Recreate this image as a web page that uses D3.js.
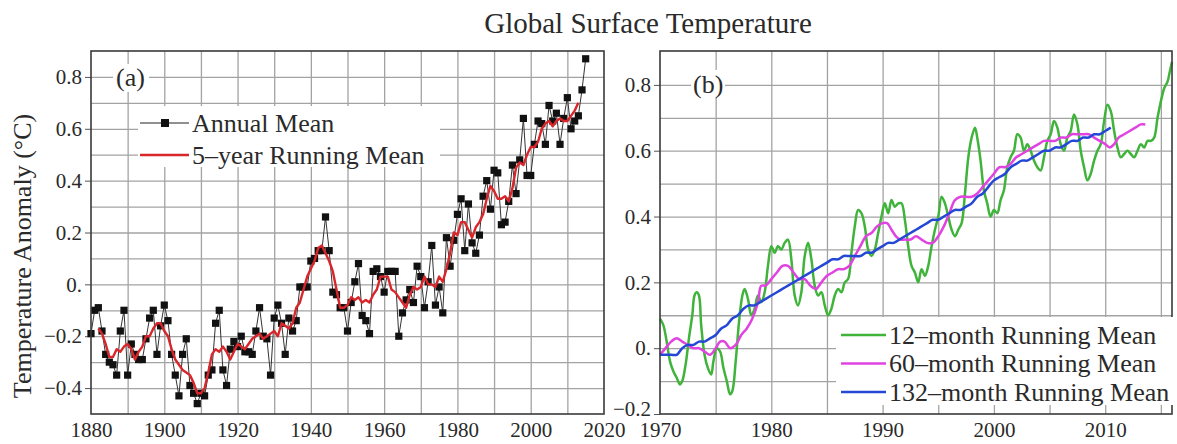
<!DOCTYPE html>
<html>
<head>
<meta charset="utf-8">
<script src="https://cdn.jsdelivr.net/npm/d3@7"></script>
<style>
  body { margin: 0; background: #fff; }
  text { font-family: "Liberation Serif", "Times New Roman", serif; fill: #2a2a2a; }
</style>
</head>
<body>
<script>
// ---- data ----
const firstYear = 1880;
// (a) annual mean anomaly, 1880 - 2015
const annualMean = [
  -0.19, -0.10, -0.09, -0.18, -0.27, -0.30, -0.31, -0.35, -0.18, -0.10,
  -0.35, -0.23, -0.27, -0.29, -0.29, -0.21, -0.13, -0.10, -0.27, -0.16,
  -0.08, -0.14, -0.27, -0.35, -0.43, -0.27, -0.21, -0.39, -0.42, -0.46,
  -0.42, -0.43, -0.35, -0.33, -0.15, -0.10, -0.33, -0.39, -0.25, -0.22,
  -0.24, -0.20, -0.26, -0.26, -0.27, -0.18, -0.09, -0.20, -0.21, -0.35,
  -0.13, -0.08, -0.15, -0.27, -0.13, -0.18, -0.14, -0.01, -0.01, -0.01,
  0.09, 0.10, 0.13, 0.13, 0.26, 0.13, -0.03, -0.04, -0.09, -0.09,
  -0.18, -0.07, 0.01, 0.08, -0.12, -0.14, -0.19, 0.05, 0.06, 0.03,
  -0.03, 0.05, 0.05, 0.05, -0.20, -0.11, -0.06, -0.02, -0.07, 0.07,
  0.03, -0.09, 0.01, 0.15, -0.08, -0.01, -0.11, 0.18, 0.07, 0.17,
  0.27, 0.33, 0.13, 0.31, 0.16, 0.12, 0.19, 0.34, 0.40, 0.29,
  0.44, 0.43, 0.23, 0.24, 0.32, 0.46, 0.35, 0.48, 0.64, 0.42,
  0.42, 0.54, 0.63, 0.62, 0.54, 0.69, 0.63, 0.66, 0.54, 0.64,
  0.72, 0.60, 0.63, 0.65, 0.75, 0.87
];
// (a) 5-year running mean, 1882 - 2013
const runFirstYear = 1882;
const runningMean5 = [
  -0.17, -0.19, -0.23, -0.28, -0.28, -0.25, -0.26, -0.24,
  -0.23, -0.25, -0.29, -0.26, -0.24, -0.20, -0.20, -0.17, -0.15, -0.15,
  -0.18, -0.20, -0.25, -0.29, -0.31, -0.33, -0.34, -0.35, -0.38, -0.42,
  -0.42, -0.40, -0.34, -0.27, -0.25, -0.26, -0.24, -0.26, -0.29, -0.26,
  -0.23, -0.24, -0.25, -0.23, -0.21, -0.20, -0.19, -0.21, -0.20, -0.19,
  -0.18, -0.20, -0.15, -0.16, -0.17, -0.15, -0.09, -0.07, -0.02, 0.03,
  0.06, 0.09, 0.14, 0.15, 0.12, 0.09, 0.05, -0.02, -0.09, -0.09,
  -0.08, -0.05, -0.06, -0.05, -0.07, -0.06, -0.07, -0.04, -0.02, 0.03,
  0.03, 0.03, -0.02, -0.03, -0.05, -0.07, -0.09, -0.04, -0.01, -0.02,
  -0.01, 0.03, 0.00, 0.00, -0.01, 0.03, 0.01, 0.06, 0.12, 0.20,
  0.19, 0.24, 0.24, 0.21, 0.18, 0.22, 0.24, 0.27, 0.33, 0.38,
  0.36, 0.33, 0.33, 0.34, 0.32, 0.37, 0.45, 0.47, 0.46, 0.50,
  0.53, 0.53, 0.55, 0.60, 0.62, 0.63, 0.61, 0.63, 0.64, 0.63,
  0.63, 0.65, 0.67, 0.70
];

// (b) running means of monthly data: [decimal year, anomaly]
const mean12 = [
  [1970.0, 0.09], [1970.3, 0.07], [1970.6, 0.02], [1970.9, -0.04], [1971.2, -0.07],
  [1971.5, -0.09], [1971.8, -0.11], [1972.0, -0.10], [1972.3, -0.05], [1972.6, 0.03],
  [1972.9, 0.10], [1973.1, 0.16], [1973.3, 0.17], [1973.5, 0.16], [1973.7, 0.07],
  [1974.0, -0.02], [1974.3, -0.06], [1974.6, -0.08], [1974.8, -0.04], [1975.1, 0.00],
  [1975.4, -0.01], [1975.7, -0.06], [1976.0, -0.10], [1976.3, -0.14], [1976.5, -0.13],
  [1976.8, -0.04], [1977.1, 0.08], [1977.4, 0.16], [1977.6, 0.18], [1977.9, 0.15],
  [1978.2, 0.10], [1978.5, 0.12], [1978.8, 0.16], [1979.1, 0.14], [1979.4, 0.17],
  [1979.7, 0.25], [1980.0, 0.31], [1980.3, 0.29], [1980.6, 0.31], [1980.9, 0.30],
  [1981.2, 0.32], [1981.5, 0.33], [1981.8, 0.27], [1982.1, 0.16], [1982.4, 0.13],
  [1982.7, 0.17], [1983.0, 0.28], [1983.3, 0.32], [1983.6, 0.27], [1983.9, 0.19],
  [1984.2, 0.16], [1984.5, 0.17], [1984.8, 0.13], [1985.1, 0.10], [1985.4, 0.12],
  [1985.7, 0.16], [1986.0, 0.18], [1986.3, 0.17], [1986.6, 0.20], [1986.9, 0.21],
  [1987.2, 0.29], [1987.5, 0.37], [1987.8, 0.42], [1988.1, 0.41], [1988.4, 0.37],
  [1988.7, 0.30], [1989.0, 0.28], [1989.3, 0.30], [1989.6, 0.35], [1989.9, 0.40],
  [1990.2, 0.44], [1990.5, 0.41], [1990.8, 0.45], [1991.1, 0.43], [1991.4, 0.44],
  [1991.7, 0.44], [1992.0, 0.39], [1992.3, 0.31], [1992.6, 0.25], [1992.9, 0.23],
  [1993.2, 0.20], [1993.5, 0.24], [1993.8, 0.22], [1994.1, 0.25], [1994.4, 0.31],
  [1994.7, 0.36], [1995.0, 0.40], [1995.3, 0.46], [1995.6, 0.44], [1995.9, 0.40],
  [1996.2, 0.36], [1996.5, 0.34], [1996.8, 0.36], [1997.1, 0.38], [1997.4, 0.47],
  [1997.7, 0.58], [1998.0, 0.64], [1998.3, 0.67], [1998.5, 0.64], [1998.8, 0.57],
  [1999.1, 0.48], [1999.4, 0.44], [1999.7, 0.40], [2000.0, 0.42], [2000.3, 0.41],
  [2000.6, 0.45], [2000.9, 0.48], [2001.2, 0.55], [2001.5, 0.58], [2001.8, 0.60],
  [2002.1, 0.65], [2002.4, 0.64], [2002.7, 0.60], [2003.0, 0.62], [2003.3, 0.60],
  [2003.6, 0.57], [2003.9, 0.55], [2004.2, 0.54], [2004.5, 0.58], [2004.8, 0.63],
  [2005.1, 0.65], [2005.4, 0.69], [2005.7, 0.67], [2006.0, 0.62], [2006.3, 0.60],
  [2006.6, 0.64], [2006.9, 0.66], [2007.2, 0.71], [2007.5, 0.68], [2007.8, 0.60],
  [2008.1, 0.55], [2008.4, 0.51], [2008.7, 0.53], [2009.0, 0.57], [2009.3, 0.60],
  [2009.6, 0.62], [2009.9, 0.69], [2010.2, 0.74], [2010.5, 0.72], [2010.8, 0.66],
  [2011.1, 0.61], [2011.4, 0.58], [2011.7, 0.59], [2012.0, 0.60], [2012.3, 0.59],
  [2012.6, 0.58], [2012.9, 0.60], [2013.2, 0.62], [2013.5, 0.61], [2013.8, 0.63],
  [2014.1, 0.63], [2014.4, 0.64], [2014.7, 0.70], [2015.0, 0.75], [2015.3, 0.79],
  [2015.6, 0.81], [2015.8, 0.84], [2016.0, 0.87]
];
const mean60 = [
  [1970.0, -0.02], [1970.5, 0.00], [1971.0, 0.02], [1971.5, 0.03], [1972.0, 0.02],
  [1972.5, 0.01], [1973.0, 0.00], [1973.5, 0.00], [1974.0, -0.01], [1974.5, -0.02],
  [1975.0, 0.00], [1975.4, 0.02], [1975.8, 0.02], [1976.3, 0.00], [1976.8, 0.01],
  [1977.3, 0.04], [1977.8, 0.06], [1978.3, 0.09], [1978.8, 0.14], [1979.1, 0.19],
  [1979.5, 0.19], [1980.0, 0.21], [1980.5, 0.23], [1981.0, 0.25], [1981.5, 0.25],
  [1982.0, 0.23], [1982.5, 0.21], [1983.0, 0.21], [1983.5, 0.19], [1984.0, 0.18],
  [1984.5, 0.20], [1985.0, 0.22], [1985.5, 0.23], [1986.0, 0.24], [1986.5, 0.24],
  [1987.0, 0.25], [1987.5, 0.28], [1988.0, 0.31], [1988.5, 0.34], [1989.0, 0.35],
  [1989.5, 0.37], [1990.0, 0.38], [1990.4, 0.38], [1990.8, 0.36], [1991.2, 0.34],
  [1991.6, 0.33], [1992.0, 0.33], [1992.5, 0.33], [1993.0, 0.34], [1993.5, 0.33],
  [1994.0, 0.32], [1994.5, 0.32], [1995.0, 0.34], [1995.5, 0.37], [1996.0, 0.41],
  [1996.5, 0.45], [1997.0, 0.46], [1997.5, 0.46], [1998.0, 0.46], [1998.5, 0.47],
  [1999.0, 0.49], [1999.5, 0.51], [2000.0, 0.53], [2000.5, 0.55], [2001.0, 0.55],
  [2001.5, 0.56], [2002.0, 0.58], [2002.5, 0.59], [2003.0, 0.60], [2003.5, 0.61],
  [2004.0, 0.62], [2004.5, 0.63], [2005.0, 0.63], [2005.5, 0.63], [2006.0, 0.64],
  [2006.5, 0.64], [2007.0, 0.65], [2007.5, 0.65], [2008.0, 0.65], [2008.5, 0.65],
  [2009.0, 0.64], [2009.5, 0.63], [2010.0, 0.62], [2010.4, 0.61], [2010.8, 0.62],
  [2011.2, 0.64], [2011.7, 0.65], [2012.2, 0.66], [2012.7, 0.67], [2013.2, 0.68],
  [2013.6, 0.68]
];
const mean132 = [
  [1970.0, -0.02], [1970.5, -0.02], [1971.0, -0.02], [1971.5, -0.02], [1972.0, 0.00],
  [1972.5, 0.01], [1973.0, 0.01], [1973.5, 0.02], [1974.0, 0.02], [1974.5, 0.03],
  [1975.0, 0.04], [1975.5, 0.06], [1976.0, 0.07], [1976.5, 0.09], [1977.0, 0.10],
  [1977.5, 0.12], [1978.0, 0.13], [1978.5, 0.13], [1979.0, 0.14], [1979.5, 0.15],
  [1980.0, 0.16], [1980.5, 0.17], [1981.0, 0.18], [1981.5, 0.19], [1982.0, 0.20],
  [1982.5, 0.21], [1983.0, 0.22], [1983.5, 0.23], [1984.0, 0.24], [1984.5, 0.25],
  [1985.0, 0.26], [1985.5, 0.27], [1986.0, 0.27], [1986.5, 0.28], [1987.0, 0.28],
  [1987.5, 0.28], [1988.0, 0.28], [1988.5, 0.29], [1989.0, 0.29], [1989.5, 0.30],
  [1990.0, 0.31], [1990.5, 0.32], [1991.0, 0.32], [1991.5, 0.33], [1992.0, 0.34],
  [1992.5, 0.35], [1993.0, 0.36], [1993.5, 0.37], [1994.0, 0.38], [1994.5, 0.39],
  [1995.0, 0.39], [1995.5, 0.40], [1996.0, 0.41], [1996.5, 0.42], [1997.0, 0.42],
  [1997.5, 0.43], [1998.0, 0.44], [1998.5, 0.46], [1999.0, 0.47], [1999.5, 0.49],
  [2000.0, 0.51], [2000.5, 0.52], [2001.0, 0.53], [2001.5, 0.55], [2002.0, 0.56],
  [2002.5, 0.57], [2003.0, 0.57], [2003.5, 0.58], [2004.0, 0.59], [2004.5, 0.60],
  [2005.0, 0.60], [2005.5, 0.61], [2006.0, 0.61], [2006.5, 0.62], [2007.0, 0.63],
  [2007.5, 0.63], [2008.0, 0.64], [2008.5, 0.64], [2009.0, 0.65], [2009.5, 0.65],
  [2010.0, 0.66], [2010.5, 0.67]
];

// tick labels
const xTicksA = [1880, 1900, 1920, 1940, 1960, 1980, 2000, 2020];
const yTicksA = [-0.4, -0.2, 0, 0.2, 0.4, 0.6, 0.8];
const xTicksB = [1970, 1980, 1990, 2000, 2010];
const yTicksB = [-0.2, 0, 0.2, 0.4, 0.6, 0.8];

const legendA = ["Annual Mean", "5\u2013year Running Mean"];
const legendB = ["12\u2013month Running Mean", "60\u2013month Running Mean", "132\u2013month Running Mean"];
const colorsB = ["#3fb33a", "#e043e0", "#2547d6"];

// ---- layout ----
const W = 1177, H = 444;
const plotTop = 51, plotBottom = 414;
const serif = "Liberation Serif, Times New Roman, serif";

const svg = d3.select("body").append("svg")
  .attr("width", W)
  .attr("height", H);

svg.append("rect").attr("width", W).attr("height", H).attr("fill", "#fff");

// title
svg.append("text")
  .attr("x", 648)
  .attr("y", 33)
  .attr("text-anchor", "middle")
  .style("font-size", "29px")
  .text("Global Surface Temperature");

// y axis title
svg.append("text")
  .attr("transform", "translate(31,256) rotate(-90)")
  .attr("text-anchor", "middle")
  .style("font-size", "26px")
  .text("Temperature Anomaly (\u00b0C)");

const yFmt = (d) => (Math.abs(d) < 1e-9 ? "0." : d3.format(".1f")(d));

function drawPanel(x, y, gridX, gridY, ticksX, ticksY) {
  const left = x.range()[0], right = x.range()[1];
  const g = svg.append("g");

  // grid
  g.append("g")
    .attr("transform", `translate(0,${plotBottom})`)
    .call(d3.axisBottom(x).tickValues(gridX).tickSize(-(plotBottom - plotTop)).tickFormat(""))
    .call((s) => s.select(".domain").remove())
    .call((s) => s.selectAll("line").attr("stroke", "#a3a3a3").attr("stroke-width", 1.3));

  g.append("g")
    .attr("transform", `translate(${left},0)`)
    .call(d3.axisLeft(y).tickValues(gridY).tickSize(-(right - left)).tickFormat(""))
    .call((s) => s.select(".domain").remove())
    .call((s) => s.selectAll("line").attr("stroke", "#a3a3a3").attr("stroke-width", 1.3));

  // labelled axes
  g.append("g")
    .attr("transform", `translate(0,${plotBottom})`)
    .call(d3.axisBottom(x).tickValues(ticksX).tickSize(0).tickPadding(8).tickFormat(d3.format("d")))
    .attr("font-family", serif)
    .attr("font-size", 21)
    .call((s) => s.select(".domain").remove())
    .call((s) => s.selectAll("text").style("font-size", "21px").style("font-family", serif).attr("fill", "#333"));

  g.append("g")
    .attr("class", "yaxis")
    .attr("transform", `translate(${left},0)`)
    .call(d3.axisLeft(y).tickValues(ticksY).tickSize(6).tickPadding(3).tickFormat(yFmt))
    .attr("font-family", serif)
    .attr("font-size", 21)
    .call((s) => s.select(".domain").remove())
    .call((s) => s.selectAll("line").attr("stroke", "#555"))
    .call((s) => s.selectAll("text").style("font-size", "21px").style("font-family", serif).attr("fill", "#333"));

  return g;
}

function drawFrame(x) {
  const left = x.range()[0], right = x.range()[1];
  svg.append("rect")
    .attr("x", left).attr("y", plotTop)
    .attr("width", right - left).attr("height", plotBottom - plotTop)
    .attr("fill", "none").attr("stroke", "#3a3a3a").attr("stroke-width", 1.6);
}

// ---- panel (a) ----
const xA = d3.scaleLinear().domain([1880, 2020]).range([91, 604]);
const yA = d3.scaleLinear().domain([-0.5, 0.9]).range([plotBottom, plotTop]);

drawPanel(xA, yA, d3.range(1890, 2020, 10), d3.range(-4, 9).map((d) => d / 10), xTicksA, yTicksA);

const annual = annualMean.map((v, i) => [firstYear + i, v]);
const running = runningMean5.map((v, i) => [runFirstYear + i, v]);

const lineA = d3.line().x((d) => xA(d[0])).y((d) => yA(d[1]));

svg.append("path").datum(annual)
  .attr("d", lineA).attr("fill", "none")
  .attr("stroke", "#333").attr("stroke-width", 1);

svg.append("g").selectAll("rect")
  .data(annual).enter().append("rect")
  .attr("x", (d) => xA(d[0]) - 3.6)
  .attr("y", (d) => yA(d[1]) - 3.6)
  .attr("width", 7.2).attr("height", 7.2)
  .attr("fill", "#111");

svg.append("path").datum(running)
  .attr("d", lineA).attr("fill", "none")
  .attr("stroke", "#d8262b").attr("stroke-width", 2.4)
  .attr("stroke-linejoin", "round");

drawFrame(xA);

// panel label (a)
svg.append("rect").attr("x", 113).attr("y", 64).attr("width", 36).attr("height", 28).attr("fill", "#fff");
svg.append("text").attr("x", 116).attr("y", yA(0.8)).attr("dy", "0.33em")
  .style("font-size", "26px").text("(a)");

// legend (a)
const legA = svg.append("g");
legA.append("rect").attr("x", 138).attr("y", 106).attr("width", 302).attr("height", 61).attr("fill", "#fff");
legendA.forEach((label, i) => {
  const ly = 123 + i * 32;
  legA.append("line").attr("x1", 140).attr("x2", 189).attr("y1", ly).attr("y2", ly)
    .attr("stroke", i === 0 ? "#222" : "#d8262b").attr("stroke-width", i === 0 ? 1.2 : 2.4);
  if (i === 0) {
    legA.append("rect").attr("x", 161).attr("y", ly - 4).attr("width", 8).attr("height", 8).attr("fill", "#111");
  }
  legA.append("text").attr("x", 192).attr("y", ly).attr("dy", "0.33em")
    .style("font-size", "26px").text(label);
});

// ---- panel (b) ----
const xB = d3.scaleLinear().domain([1970, 2016]).range([660, 1172]);
const yB = d3.scaleLinear().domain([-0.2, 0.903]).range([plotBottom, plotTop]);

const gB = drawPanel(xB, yB, d3.range(1975, 2016, 5), d3.range(-1, 9).map((d) => d / 10), xTicksB, yTicksB);
// lowest label sits a little higher, as in the figure
gB.select(".yaxis").selectAll(".tick").filter((d) => d < -0.1).select("text").attr("dy", "0.05em");

const lineB = d3.line().x((d) => xB(d[0])).y((d) => yB(d[1])).curve(d3.curveCatmullRom);

[mean12, mean60, mean132].forEach((series, i) => {
  svg.append("path").datum(series)
    .attr("d", lineB).attr("fill", "none")
    .attr("stroke", colorsB[i]).attr("stroke-width", 2.5)
    .attr("stroke-linejoin", "round");
});

drawFrame(xB);

// panel label (b)
svg.append("rect").attr("x", 691).attr("y", 70).attr("width", 34).attr("height", 28).attr("fill", "#fff");
svg.append("text").attr("x", 693).attr("y", yB(0.8)).attr("dy", "0.33em")
  .style("font-size", "26px").text("(b)");

// legend (b)
const legB = svg.append("g");
legB.append("rect").attr("x", 836).attr("y", 317).attr("width", 340).attr("height", 88).attr("fill", "#fff");
legendB.forEach((label, i) => {
  const ly = 335 + i * 28.5;
  legB.append("line").attr("x1", 841).attr("x2", 886).attr("y1", ly).attr("y2", ly)
    .attr("stroke", colorsB[i]).attr("stroke-width", 2.6);
  legB.append("text").attr("x", 889).attr("y", ly).attr("dy", "0.33em")
    .style("font-size", "26px").text(label);
});
</script>
</body>
</html>
